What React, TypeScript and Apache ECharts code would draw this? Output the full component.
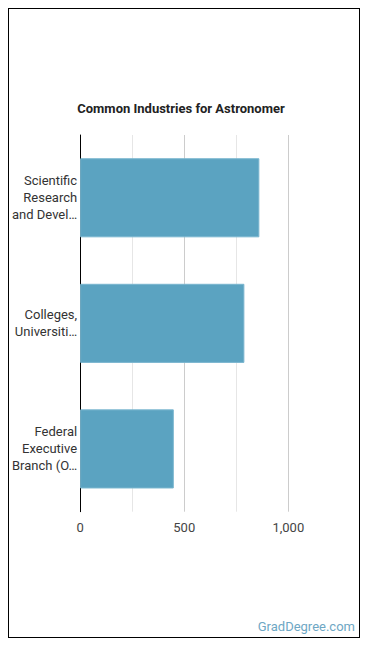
import React, { useEffect, useRef } from "react";
import * as echarts from "echarts";

const categories = [
  "Scientific\nResearch\nand Devel…",
  "Colleges,\nUniversiti…",
  "Federal\nExecutive\nBranch (O…",
];
const values = [861, 789, 450];
const tickLabels: Record<number, string> = { 0: "0", 500: "500", 1000: "1,000" };

export default function App() {
  const ref = useRef<HTMLDivElement>(null);
  useEffect(() => {
    if (!ref.current) return;
    const chart = echarts.init(ref.current, null, { renderer: "svg" });
    chart.setOption({
      animation: false,
      grid: { left: 70.3, top: 126, width: 209, height: 376.7, containLabel: false },
      graphic: [
        {
          type: "text",
          x: 172,
          y: 99,
          style: {
            text: "Common Industries for Astronomer",
            fontFamily: "Roboto",
            fontWeight: "bold",
            fontSize: 13,
            fill: "#222",
            textAlign: "center",
            textVerticalAlign: "middle",
          },
        },
        {
          type: "text",
          x: 346,
          y: 617,
          style: {
            text: "GradDegree.com",
            fontFamily: "Roboto",
            fontSize: 13,
            fill: "#6ea7c4",
            textAlign: "right",
            textVerticalAlign: "middle",
          },
        },
      ],
      xAxis: {
        type: "value",
        min: 0,
        max: 1000,
        interval: 250,
        axisLine: { show: false },
        axisTick: { show: false },
        axisLabel: {
          margin: 9,
          fontFamily: "Roboto",
          fontSize: 13,
          color: "#444",
          formatter: (v: number) => tickLabels[v] ?? "",
        },
        splitLine: { show: true, lineStyle: { color: ["#cccccc", "#e6e6e6"], width: 1 } },
      },
      yAxis: {
        type: "category",
        inverse: true,
        data: categories,
        axisLine: { show: true, lineStyle: { color: "#000", width: 1 } },
        axisTick: { show: false },
        axisLabel: {
          margin: 3,
          fontFamily: "Roboto",
          fontSize: 13,
          lineHeight: 17,
          color: "#333",
        },
      },
      series: [
        {
          type: "bar",
          data: values,
          barCategoryGap: "37%",
          itemStyle: { color: "#5ba3c1", borderColor: "#7ab6cf", borderWidth: 1 },
        },
      ],
    });
    return () => chart.dispose();
  }, []);
  return (
    <div
      ref={ref}
      style={{
        width: 352,
        height: 630,
        border: "1px solid #000",
        boxSizing: "border-box",
        background: "#fff",
      }}
    />
  );
}
